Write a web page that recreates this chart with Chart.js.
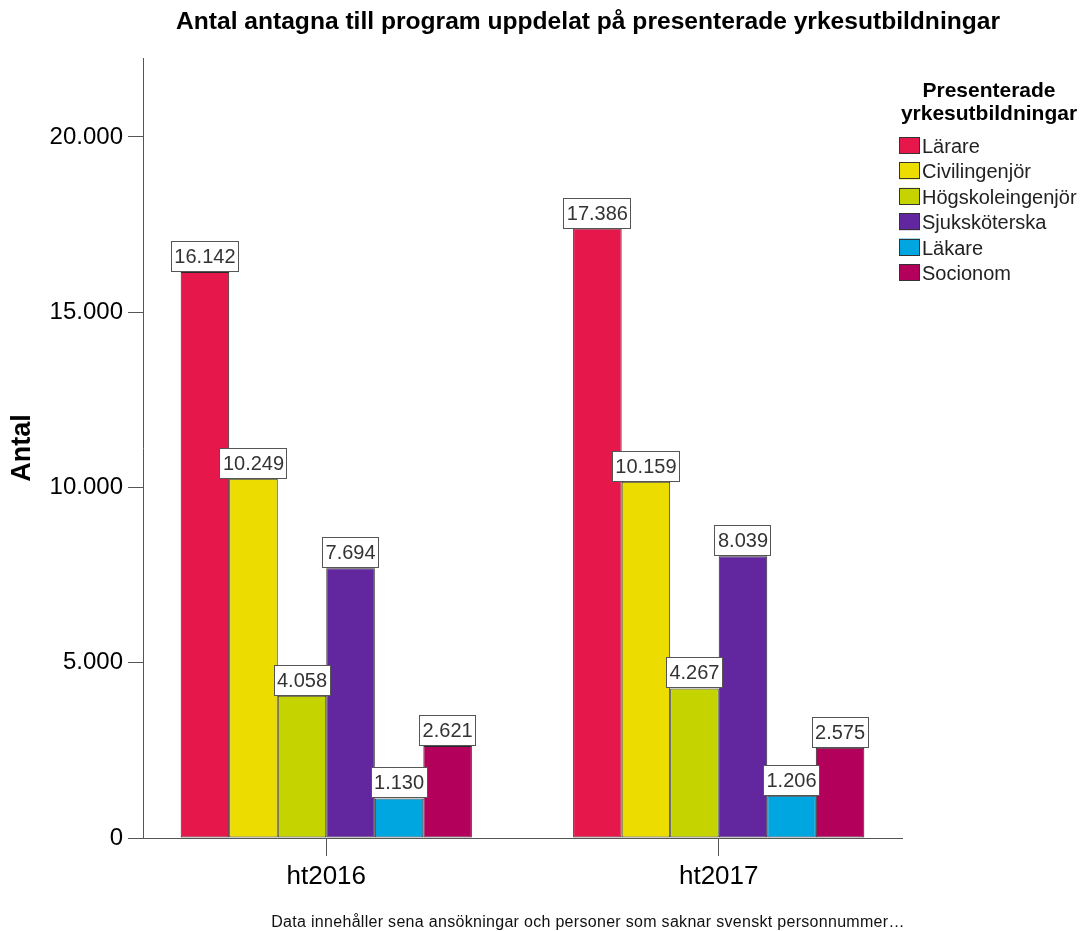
<!DOCTYPE html>
<html>
<head>
<meta charset="utf-8">
<title>Antal antagna</title>
<script src="https://cdn.jsdelivr.net/npm/chart.js@4.4.1/dist/chart.umd.min.js"></script>
<style>
  html, body { margin: 0; padding: 0; background: #fff; }
</style>
</head>
<body>
<canvas id="antagnaChart" width="1091" height="931"></canvas>
<script>
const terms = ['ht2016', 'ht2017'];
const programs = ['Lärare', 'Civilingenjör', 'Högskoleingenjör', 'Sjuksköterska', 'Läkare', 'Socionom'];
const admitted2016 = [16142, 10249, 4058, 7694, 1130, 2621];
const admitted2017 = [17386, 10159, 4267, 8039, 1206, 2575];
const yTicks = [0, 5000, 10000, 15000, 20000];
const programColors = ['#e5174b', '#ecdc00', '#c5d400', '#62279f', '#00a6e0', '#b3005a'];

const FONT = '"Liberation Sans", Arial, sans-serif';
Chart.defaults.font.family = FONT;
Chart.defaults.color = '#000';

// 20000 -> "20.000"
const fmt = v => String(v).replace(/\B(?=(\d{3})+(?!\d))/g, '.');

const datasets = programs.map((name, i) => ({
  label: name,
  data: [admitted2016[i], admitted2017[i]].map((v, j) => ({ x: j, y: v })),
  backgroundColor: programColors[i],
  borderColor: '#2a2a2a',
  borderWidth: 1,
  borderSkipped: false,
  barPercentage: 1,
  categoryPercentage: 0.742
}));

// boxed value labels sitting on top of each bar
const valueBoxes = {
  id: 'valueBoxes',
  afterDatasetsDraw(chart) {
    const ctx = chart.ctx;
    ctx.save();
    ctx.font = '20px ' + FONT;
    ctx.textAlign = 'center';
    ctx.textBaseline = 'middle';
    chart.data.datasets.forEach((ds, i) => {
      chart.getDatasetMeta(i).data.forEach((bar, j) => {
        const text = fmt(ds.data[j].y);
        const w = Math.round(ctx.measureText(text).width) + 7;
        const h = 31;
        const x = Math.round(bar.x - w / 2);
        const y = Math.round(bar.y - h);
        ctx.fillStyle = '#fff';
        ctx.fillRect(x, y, w, h);
        ctx.strokeStyle = '#555';
        ctx.lineWidth = 1;
        ctx.strokeRect(x + 0.5, y + 0.5, w - 1, h - 1);
        ctx.fillStyle = '#333';
        ctx.fillText(text, bar.x, y + h / 2 + 1);
      });
    });
    ctx.restore();
  }
};

// main title, footnote and the legend on the right
const decorations = {
  id: 'decorations',
  afterDraw(chart) {
    const ctx = chart.ctx;
    const area = chart.chartArea;
    ctx.save();
    ctx.fillStyle = '#000';
    ctx.textBaseline = 'alphabetic';

    ctx.textAlign = 'center';
    ctx.font = 'bold 24.6px ' + FONT;
    ctx.fillText('Antal antagna till program uppdelat på presenterade yrkesutbildningar', 588, 29);

    ctx.font = '16px ' + FONT;
    ctx.letterSpacing = '0.3px';
    ctx.fillStyle = '#111';
    ctx.fillText('Data innehåller sena ansökningar och personer som saknar svenskt personnummer…', 588, 927, 636);
    ctx.letterSpacing = '0px';

    // legend
    const lx = area.right - 3;
    ctx.fillStyle = '#000';
    ctx.font = 'bold 21px ' + FONT;
    ctx.fillText('Presenterade', 989, 97);
    ctx.fillText('yrkesutbildningar', 989, 120);

    ctx.textAlign = 'left';
    ctx.font = '20px ' + FONT;
    chart.data.datasets.forEach((ds, i) => {
      const y0 = 137 + i * 25.4;
      ctx.fillStyle = ds.backgroundColor;
      ctx.fillRect(lx, y0, 21, 17);
      ctx.strokeStyle = '#333';
      ctx.lineWidth = 1;
      ctx.strokeRect(lx + 0.5, Math.round(y0) + 0.5, 20, 16);
      ctx.fillStyle = '#222';
      ctx.fillText(ds.label, lx + 23, y0 + 16);
    });
    ctx.restore();
  }
};

new Chart(document.getElementById('antagnaChart'), {
  type: 'bar',
  data: { datasets },
  options: {
    responsive: false,
    animation: false,
    events: [],
    layout: { padding: { top: 58, right: 189, bottom: 0, left: 0 } },
    plugins: {
      legend: { display: false },
      tooltip: { enabled: false }
    },
    scales: {
      x: {
        type: 'linear',
        offset: false,
        min: -0.467,
        max: 1.467,
        afterBuildTicks: scale => { scale.ticks = terms.map((t, i) => ({ value: i })); },
        afterFit: scale => { scale.height = 93; },
        ticks: {
          callback: v => terms[v],
          font: { size: 26 },
          color: '#000',
          padding: 5,
          maxRotation: 0
        },
        grid: { offset: false, drawOnChartArea: false, tickLength: 18, color: '#555' },
        border: { color: '#555', width: 1 }
      },
      y: {
        min: 0,
        max: 22250,
        afterBuildTicks: scale => { scale.ticks = yTicks.map(v => ({ value: v })); },
        afterFit: scale => { scale.width = 143; },
        ticks: {
          callback: v => fmt(v),
          font: { size: 24 },
          color: '#000',
          padding: 5
        },
        grid: { drawOnChartArea: false, tickLength: 15, color: '#555' },
        border: { color: '#555', width: 1 },
        title: {
          display: true,
          text: 'Antal',
          font: { size: 27, weight: 'bold' },
          color: '#000',
          padding: { top: 6, bottom: 0 }
        }
      }
    }
  },
  plugins: [valueBoxes, decorations]
});
</script>
</body>
</html>
